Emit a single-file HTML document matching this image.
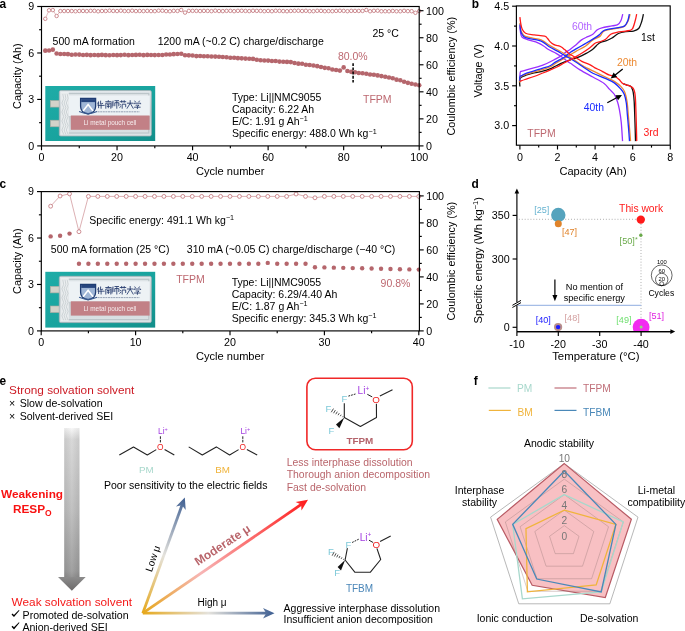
<!DOCTYPE html>
<html><head><meta charset="utf-8"><style>
html,body{margin:0;padding:0;background:#fff;overflow:hidden;}
svg{display:block;font-family:"Liberation Sans",sans-serif;will-change:transform;}
</style></head><body>
<svg width="685" height="631" viewBox="0 0 685 631">
<rect width="685" height="631" fill="#fff"/>
<defs><linearGradient id="tla" x1="0" y1="0" x2="1" y2="1"><stop offset="0" stop-color="#1eaca7"/><stop offset="0.6" stop-color="#18a29d"/><stop offset="1" stop-color="#128e8a"/></linearGradient><linearGradient id="sva" x1="0" y1="0" x2="0" y2="1"><stop offset="0" stop-color="#e2e8eb"/><stop offset="0.5" stop-color="#c6ced2"/><stop offset="1" stop-color="#dde4e7"/></linearGradient></defs>
<rect x="45.30" y="86.00" width="109.90" height="55.00" fill="url(#tla)"/>
<rect x="50.30" y="100.50" width="10.5" height="6.6" fill="#d3d2c9" stroke="#a9a89f" stroke-width="0.6"/>
<rect x="50.30" y="120.20" width="10.5" height="6.6" fill="#d3d2c9" stroke="#a9a89f" stroke-width="0.6"/>
<rect x="59.30" y="90.50" width="92.00" height="45.50" rx="1.5" fill="url(#sva)" stroke="#a7b2b7" stroke-width="0.8"/>
<rect x="61.80" y="93.50" width="87.00" height="39.50" fill="none" stroke="#bcc6ca" stroke-width="1.2"/>
<rect x="68.80" y="95.50" width="81.00" height="20.50" fill="#edf2f5"/>
<rect x="60.80" y="92.00" width="8" height="42.50" fill="#eef1f2" opacity="0.85"/>
<path d="M62.80 94.00 L63.70 98.50 L61.90 103.00 L63.70 107.50 L61.90 112.00 L63.70 116.50 L61.90 121.00 L63.70 125.50 L61.90 130.00 L63.70 134.50" stroke="#b3bdc1" stroke-width="0.55" fill="none"/>
<path d="M65.00 94.00 L65.90 98.50 L64.10 103.00 L65.90 107.50 L64.10 112.00 L65.90 116.50 L64.10 121.00 L65.90 125.50 L64.10 130.00 L65.90 134.50" stroke="#b3bdc1" stroke-width="0.55" fill="none"/>
<path d="M67.20 94.00 L68.10 98.50 L66.30 103.00 L68.10 107.50 L66.30 112.00 L68.10 116.50 L66.30 121.00 L68.10 125.50 L66.30 130.00 L68.10 134.50" stroke="#b3bdc1" stroke-width="0.55" fill="none"/>
<rect x="70.80" y="115.50" width="78.80" height="14.30" fill="#c28086"/>
<text x="110.00" y="124.70" font-size="6.4" text-anchor="middle" fill="#f6ecee">Li metal pouch cell</text>
<path d="M80.60 98.50 h15 v8 q0 6 -7.5 7.5 q-7.5 -1.5 -7.5 -7.5z" fill="#9fb6d6" stroke="#1f3c73" stroke-width="1.3"/>
<path d="M81.20 99.10 h13.8 v3 h-13.8z" fill="#26457e"/>
<path d="M83.10 111.00 l5 -6.5 l5 6.5" stroke="#ffffff" stroke-width="1.6" fill="none"/>
<path d="M79.10 111.50 q9 4 18 0" stroke="#3a5a90" stroke-width="1.2" fill="none"/>
<path transform="translate(97.60,100.20)" d="M1 1.2 L0 4.2 M1 2 V8 M3 0.5 V4 L5.5 3 M0 5.2 H7 M3.5 4.5 V8.5" stroke="#22386a" stroke-width="0.85" fill="none"/>
<path transform="translate(104.80,100.20)" d="M0.5 1.5 H6.5 M3.5 0 V1.5 M1 3 H6 V8.5 M1 3 V8.5 M2.2 4.5 L4.8 4.5 M3.5 4.5 V8 M2 6.2 H5" stroke="#22386a" stroke-width="0.85" fill="none"/>
<path transform="translate(112.00,100.20)" d="M1 0.5 V6 M0 1.5 V7.5 M2.5 0.5 H7 M2.8 2.5 H6.8 V6 M2.8 2.5 V6 M4.8 0.5 V8.5" stroke="#22386a" stroke-width="0.85" fill="none"/>
<path transform="translate(119.20,100.20)" d="M0.5 1.5 H7 M2.5 0 V2.5 M5 0 V2.5 M0.5 4 L1.8 5 M0.2 7.5 L2 6 M3 4 H6.5 V7 M3 4 V8.5" stroke="#22386a" stroke-width="0.85" fill="none"/>
<path transform="translate(126.40,100.20)" d="M0.5 3 H7 M3.8 0 V3 L0.5 8.5 M3.8 3 L7 8.5" stroke="#22386a" stroke-width="0.85" fill="none"/>
<path transform="translate(133.60,100.20)" d="M1 0.5 L2 2 M6 0.5 L5 2 M0.5 3 H7 V4 M0.5 3 V4 M2 5 H5.5 L3.5 6.5 M0.5 7 H7 M3.8 6.5 V8.8" stroke="#22386a" stroke-width="0.85" fill="none"/>
<line x1="97.60" y1="111.80" x2="139.60" y2="111.80" stroke="#8a97ad" stroke-width="0.9" stroke-dasharray="2,0.6"/>
<circle cx="45.28" cy="50.67" r="2.30" fill="#b5666c" />
<circle cx="49.05" cy="50.52" r="2.30" fill="#b5666c" />
<circle cx="52.83" cy="49.63" r="2.30" fill="#b5666c" />
<circle cx="56.61" cy="53.45" r="2.30" fill="#b5666c" />
<circle cx="60.39" cy="54.06" r="2.30" fill="#b5666c" />
<circle cx="64.16" cy="53.98" r="2.30" fill="#b5666c" />
<circle cx="67.94" cy="54.16" r="2.30" fill="#b5666c" />
<circle cx="71.72" cy="54.77" r="2.30" fill="#b5666c" />
<circle cx="75.49" cy="54.55" r="2.30" fill="#b5666c" />
<circle cx="79.27" cy="54.61" r="2.30" fill="#b5666c" />
<circle cx="83.05" cy="55.06" r="2.30" fill="#b5666c" />
<circle cx="86.82" cy="54.87" r="2.30" fill="#b5666c" />
<circle cx="90.60" cy="55.13" r="2.30" fill="#b5666c" />
<circle cx="94.38" cy="55.02" r="2.30" fill="#b5666c" />
<circle cx="98.16" cy="55.17" r="2.30" fill="#b5666c" />
<circle cx="101.93" cy="54.91" r="2.30" fill="#b5666c" />
<circle cx="105.71" cy="55.14" r="2.30" fill="#b5666c" />
<circle cx="109.49" cy="55.25" r="2.30" fill="#b5666c" />
<circle cx="113.26" cy="55.06" r="2.30" fill="#b5666c" />
<circle cx="117.04" cy="55.16" r="2.30" fill="#b5666c" />
<circle cx="120.82" cy="55.11" r="2.30" fill="#b5666c" />
<circle cx="124.59" cy="54.79" r="2.30" fill="#b5666c" />
<circle cx="128.37" cy="55.13" r="2.30" fill="#b5666c" />
<circle cx="132.15" cy="55.03" r="2.30" fill="#b5666c" />
<circle cx="135.93" cy="54.88" r="2.30" fill="#b5666c" />
<circle cx="139.70" cy="54.73" r="2.30" fill="#b5666c" />
<circle cx="143.48" cy="55.13" r="2.30" fill="#b5666c" />
<circle cx="147.26" cy="54.92" r="2.30" fill="#b5666c" />
<circle cx="151.03" cy="55.03" r="2.30" fill="#b5666c" />
<circle cx="154.81" cy="55.10" r="2.30" fill="#b5666c" />
<circle cx="158.59" cy="55.01" r="2.30" fill="#b5666c" />
<circle cx="162.36" cy="54.94" r="2.30" fill="#b5666c" />
<circle cx="166.14" cy="54.50" r="2.30" fill="#b5666c" />
<circle cx="169.92" cy="54.53" r="2.30" fill="#b5666c" />
<circle cx="173.69" cy="54.17" r="2.30" fill="#b5666c" />
<circle cx="177.47" cy="54.07" r="2.30" fill="#b5666c" />
<circle cx="181.25" cy="53.69" r="2.30" fill="#b5666c" />
<circle cx="185.03" cy="55.20" r="2.30" fill="#b5666c" />
<circle cx="188.80" cy="55.37" r="2.30" fill="#b5666c" />
<circle cx="192.58" cy="55.57" r="2.30" fill="#b5666c" />
<circle cx="196.36" cy="56.10" r="2.30" fill="#b5666c" />
<circle cx="200.13" cy="55.99" r="2.30" fill="#b5666c" />
<circle cx="203.91" cy="56.24" r="2.30" fill="#b5666c" />
<circle cx="207.69" cy="56.23" r="2.30" fill="#b5666c" />
<circle cx="211.47" cy="56.49" r="2.30" fill="#b5666c" />
<circle cx="215.24" cy="56.59" r="2.30" fill="#b5666c" />
<circle cx="219.02" cy="56.73" r="2.30" fill="#b5666c" />
<circle cx="222.80" cy="57.07" r="2.30" fill="#b5666c" />
<circle cx="226.57" cy="57.29" r="2.30" fill="#b5666c" />
<circle cx="230.35" cy="57.68" r="2.30" fill="#b5666c" />
<circle cx="234.13" cy="57.79" r="2.30" fill="#b5666c" />
<circle cx="237.90" cy="58.14" r="2.30" fill="#b5666c" />
<circle cx="241.68" cy="58.33" r="2.30" fill="#b5666c" />
<circle cx="245.46" cy="58.62" r="2.30" fill="#b5666c" />
<circle cx="249.24" cy="58.69" r="2.30" fill="#b5666c" />
<circle cx="253.01" cy="58.90" r="2.30" fill="#b5666c" />
<circle cx="256.79" cy="59.71" r="2.30" fill="#b5666c" />
<circle cx="260.57" cy="60.23" r="2.30" fill="#b5666c" />
<circle cx="264.34" cy="60.49" r="2.30" fill="#b5666c" />
<circle cx="268.12" cy="60.61" r="2.30" fill="#b5666c" />
<circle cx="271.90" cy="60.97" r="2.30" fill="#b5666c" />
<circle cx="275.67" cy="61.01" r="2.30" fill="#b5666c" />
<circle cx="279.45" cy="61.60" r="2.30" fill="#b5666c" />
<circle cx="283.23" cy="61.76" r="2.30" fill="#b5666c" />
<circle cx="287.00" cy="61.90" r="2.30" fill="#b5666c" />
<circle cx="290.78" cy="62.08" r="2.30" fill="#b5666c" />
<circle cx="294.56" cy="63.04" r="2.30" fill="#b5666c" />
<circle cx="298.34" cy="63.67" r="2.30" fill="#b5666c" />
<circle cx="302.11" cy="63.78" r="2.30" fill="#b5666c" />
<circle cx="305.89" cy="64.70" r="2.30" fill="#b5666c" />
<circle cx="309.67" cy="65.07" r="2.30" fill="#b5666c" />
<circle cx="313.44" cy="65.50" r="2.30" fill="#b5666c" />
<circle cx="317.22" cy="66.13" r="2.30" fill="#b5666c" />
<circle cx="321.00" cy="66.93" r="2.30" fill="#b5666c" />
<circle cx="324.77" cy="67.85" r="2.30" fill="#b5666c" />
<circle cx="328.55" cy="68.31" r="2.30" fill="#b5666c" />
<circle cx="332.33" cy="69.46" r="2.30" fill="#b5666c" />
<circle cx="336.11" cy="70.07" r="2.30" fill="#b5666c" />
<circle cx="339.88" cy="70.61" r="2.30" fill="#b5666c" />
<circle cx="343.66" cy="67.42" r="2.30" fill="#b5666c" />
<circle cx="347.44" cy="70.99" r="2.30" fill="#b5666c" />
<circle cx="351.21" cy="71.84" r="2.30" fill="#b5666c" />
<circle cx="354.99" cy="72.20" r="2.30" fill="#b5666c" />
<circle cx="358.77" cy="73.01" r="2.30" fill="#b5666c" />
<circle cx="362.55" cy="73.23" r="2.30" fill="#b5666c" />
<circle cx="366.32" cy="73.68" r="2.30" fill="#b5666c" />
<circle cx="370.10" cy="74.50" r="2.30" fill="#b5666c" />
<circle cx="373.88" cy="74.78" r="2.30" fill="#b5666c" />
<circle cx="377.65" cy="75.42" r="2.30" fill="#b5666c" />
<circle cx="381.43" cy="76.09" r="2.30" fill="#b5666c" />
<circle cx="385.21" cy="76.76" r="2.30" fill="#b5666c" />
<circle cx="388.98" cy="77.45" r="2.30" fill="#b5666c" />
<circle cx="392.76" cy="78.32" r="2.30" fill="#b5666c" />
<circle cx="396.54" cy="79.66" r="2.30" fill="#b5666c" />
<circle cx="400.31" cy="80.31" r="2.30" fill="#b5666c" />
<circle cx="404.09" cy="81.76" r="2.30" fill="#b5666c" />
<circle cx="407.87" cy="82.86" r="2.30" fill="#b5666c" />
<circle cx="411.65" cy="83.74" r="2.30" fill="#b5666c" />
<circle cx="415.42" cy="84.48" r="2.30" fill="#b5666c" />
<circle cx="419.20" cy="85.21" r="2.30" fill="#b5666c" />
<path d="M45.28 18.80 L49.05 10.30 L52.83 10.10 L56.61 16.00 L60.39 11.09 L64.16 11.06 L67.94 11.04 L71.72 11.07 L75.49 11.26 L79.27 11.00 L83.05 10.96 L86.82 11.13 L90.60 10.84 L94.38 10.88 L98.16 11.29 L101.93 11.01 L105.71 11.03 L109.49 10.71 L113.26 10.95 L117.04 11.05 L120.82 10.71 L124.59 11.07 L128.37 11.08 L132.15 10.74 L135.93 11.08 L139.70 10.98 L143.48 11.11 L147.26 10.91 L151.03 11.12 L154.81 11.14 L158.59 10.71 L162.36 10.74 L166.14 11.11 L169.92 11.28 L173.69 10.85 L177.47 10.97 L181.25 10.00 L185.03 12.60 L188.80 10.92 L192.58 10.89 L196.36 10.92 L200.13 11.06 L203.91 10.88 L207.69 10.93 L211.47 11.16 L215.24 10.72 L219.02 11.04 L222.80 11.14 L226.57 10.89 L230.35 10.83 L234.13 11.18 L237.90 10.84 L241.68 10.81 L245.46 10.96 L249.24 11.12 L253.01 10.76 L256.79 10.89 L260.57 10.90 L264.34 11.20 L268.12 10.96 L271.90 11.21 L275.67 10.80 L279.45 10.90 L283.23 11.09 L287.00 11.23 L290.78 10.97 L294.56 10.84 L298.34 10.77 L302.11 11.02 L305.89 10.81 L309.67 11.18 L313.44 11.20 L317.22 10.81 L321.00 10.87 L324.77 11.18 L328.55 11.09 L332.33 11.18 L336.11 10.91 L339.88 10.78 L343.66 10.88 L347.44 11.18 L351.21 10.86 L354.99 10.91 L358.77 10.95 L362.55 10.95 L366.32 10.00 L370.10 11.25 L373.88 10.79 L377.65 10.70 L381.43 11.27 L385.21 11.23 L388.98 11.29 L392.76 10.96 L396.54 11.27 L400.31 11.26 L404.09 10.83 L407.87 11.15 L411.65 11.20 L415.42 12.80 L419.20 11.01" fill="none" stroke="#c47a80" stroke-width="0.5"/>
<circle cx="45.28" cy="18.80" r="1.75" fill="#fff" stroke="#c47a80" stroke-width="0.85" />
<circle cx="49.05" cy="10.30" r="1.75" fill="#fff" stroke="#c47a80" stroke-width="0.85" />
<circle cx="52.83" cy="10.10" r="1.75" fill="#fff" stroke="#c47a80" stroke-width="0.85" />
<circle cx="56.61" cy="16.00" r="1.75" fill="#fff" stroke="#c47a80" stroke-width="0.85" />
<circle cx="60.39" cy="11.09" r="1.75" fill="#fff" stroke="#c47a80" stroke-width="0.85" />
<circle cx="64.16" cy="11.06" r="1.75" fill="#fff" stroke="#c47a80" stroke-width="0.85" />
<circle cx="67.94" cy="11.04" r="1.75" fill="#fff" stroke="#c47a80" stroke-width="0.85" />
<circle cx="71.72" cy="11.07" r="1.75" fill="#fff" stroke="#c47a80" stroke-width="0.85" />
<circle cx="75.49" cy="11.26" r="1.75" fill="#fff" stroke="#c47a80" stroke-width="0.85" />
<circle cx="79.27" cy="11.00" r="1.75" fill="#fff" stroke="#c47a80" stroke-width="0.85" />
<circle cx="83.05" cy="10.96" r="1.75" fill="#fff" stroke="#c47a80" stroke-width="0.85" />
<circle cx="86.82" cy="11.13" r="1.75" fill="#fff" stroke="#c47a80" stroke-width="0.85" />
<circle cx="90.60" cy="10.84" r="1.75" fill="#fff" stroke="#c47a80" stroke-width="0.85" />
<circle cx="94.38" cy="10.88" r="1.75" fill="#fff" stroke="#c47a80" stroke-width="0.85" />
<circle cx="98.16" cy="11.29" r="1.75" fill="#fff" stroke="#c47a80" stroke-width="0.85" />
<circle cx="101.93" cy="11.01" r="1.75" fill="#fff" stroke="#c47a80" stroke-width="0.85" />
<circle cx="105.71" cy="11.03" r="1.75" fill="#fff" stroke="#c47a80" stroke-width="0.85" />
<circle cx="109.49" cy="10.71" r="1.75" fill="#fff" stroke="#c47a80" stroke-width="0.85" />
<circle cx="113.26" cy="10.95" r="1.75" fill="#fff" stroke="#c47a80" stroke-width="0.85" />
<circle cx="117.04" cy="11.05" r="1.75" fill="#fff" stroke="#c47a80" stroke-width="0.85" />
<circle cx="120.82" cy="10.71" r="1.75" fill="#fff" stroke="#c47a80" stroke-width="0.85" />
<circle cx="124.59" cy="11.07" r="1.75" fill="#fff" stroke="#c47a80" stroke-width="0.85" />
<circle cx="128.37" cy="11.08" r="1.75" fill="#fff" stroke="#c47a80" stroke-width="0.85" />
<circle cx="132.15" cy="10.74" r="1.75" fill="#fff" stroke="#c47a80" stroke-width="0.85" />
<circle cx="135.93" cy="11.08" r="1.75" fill="#fff" stroke="#c47a80" stroke-width="0.85" />
<circle cx="139.70" cy="10.98" r="1.75" fill="#fff" stroke="#c47a80" stroke-width="0.85" />
<circle cx="143.48" cy="11.11" r="1.75" fill="#fff" stroke="#c47a80" stroke-width="0.85" />
<circle cx="147.26" cy="10.91" r="1.75" fill="#fff" stroke="#c47a80" stroke-width="0.85" />
<circle cx="151.03" cy="11.12" r="1.75" fill="#fff" stroke="#c47a80" stroke-width="0.85" />
<circle cx="154.81" cy="11.14" r="1.75" fill="#fff" stroke="#c47a80" stroke-width="0.85" />
<circle cx="158.59" cy="10.71" r="1.75" fill="#fff" stroke="#c47a80" stroke-width="0.85" />
<circle cx="162.36" cy="10.74" r="1.75" fill="#fff" stroke="#c47a80" stroke-width="0.85" />
<circle cx="166.14" cy="11.11" r="1.75" fill="#fff" stroke="#c47a80" stroke-width="0.85" />
<circle cx="169.92" cy="11.28" r="1.75" fill="#fff" stroke="#c47a80" stroke-width="0.85" />
<circle cx="173.69" cy="10.85" r="1.75" fill="#fff" stroke="#c47a80" stroke-width="0.85" />
<circle cx="177.47" cy="10.97" r="1.75" fill="#fff" stroke="#c47a80" stroke-width="0.85" />
<circle cx="181.25" cy="10.00" r="1.75" fill="#fff" stroke="#c47a80" stroke-width="0.85" />
<circle cx="185.03" cy="12.60" r="1.75" fill="#fff" stroke="#c47a80" stroke-width="0.85" />
<circle cx="188.80" cy="10.92" r="1.75" fill="#fff" stroke="#c47a80" stroke-width="0.85" />
<circle cx="192.58" cy="10.89" r="1.75" fill="#fff" stroke="#c47a80" stroke-width="0.85" />
<circle cx="196.36" cy="10.92" r="1.75" fill="#fff" stroke="#c47a80" stroke-width="0.85" />
<circle cx="200.13" cy="11.06" r="1.75" fill="#fff" stroke="#c47a80" stroke-width="0.85" />
<circle cx="203.91" cy="10.88" r="1.75" fill="#fff" stroke="#c47a80" stroke-width="0.85" />
<circle cx="207.69" cy="10.93" r="1.75" fill="#fff" stroke="#c47a80" stroke-width="0.85" />
<circle cx="211.47" cy="11.16" r="1.75" fill="#fff" stroke="#c47a80" stroke-width="0.85" />
<circle cx="215.24" cy="10.72" r="1.75" fill="#fff" stroke="#c47a80" stroke-width="0.85" />
<circle cx="219.02" cy="11.04" r="1.75" fill="#fff" stroke="#c47a80" stroke-width="0.85" />
<circle cx="222.80" cy="11.14" r="1.75" fill="#fff" stroke="#c47a80" stroke-width="0.85" />
<circle cx="226.57" cy="10.89" r="1.75" fill="#fff" stroke="#c47a80" stroke-width="0.85" />
<circle cx="230.35" cy="10.83" r="1.75" fill="#fff" stroke="#c47a80" stroke-width="0.85" />
<circle cx="234.13" cy="11.18" r="1.75" fill="#fff" stroke="#c47a80" stroke-width="0.85" />
<circle cx="237.90" cy="10.84" r="1.75" fill="#fff" stroke="#c47a80" stroke-width="0.85" />
<circle cx="241.68" cy="10.81" r="1.75" fill="#fff" stroke="#c47a80" stroke-width="0.85" />
<circle cx="245.46" cy="10.96" r="1.75" fill="#fff" stroke="#c47a80" stroke-width="0.85" />
<circle cx="249.24" cy="11.12" r="1.75" fill="#fff" stroke="#c47a80" stroke-width="0.85" />
<circle cx="253.01" cy="10.76" r="1.75" fill="#fff" stroke="#c47a80" stroke-width="0.85" />
<circle cx="256.79" cy="10.89" r="1.75" fill="#fff" stroke="#c47a80" stroke-width="0.85" />
<circle cx="260.57" cy="10.90" r="1.75" fill="#fff" stroke="#c47a80" stroke-width="0.85" />
<circle cx="264.34" cy="11.20" r="1.75" fill="#fff" stroke="#c47a80" stroke-width="0.85" />
<circle cx="268.12" cy="10.96" r="1.75" fill="#fff" stroke="#c47a80" stroke-width="0.85" />
<circle cx="271.90" cy="11.21" r="1.75" fill="#fff" stroke="#c47a80" stroke-width="0.85" />
<circle cx="275.67" cy="10.80" r="1.75" fill="#fff" stroke="#c47a80" stroke-width="0.85" />
<circle cx="279.45" cy="10.90" r="1.75" fill="#fff" stroke="#c47a80" stroke-width="0.85" />
<circle cx="283.23" cy="11.09" r="1.75" fill="#fff" stroke="#c47a80" stroke-width="0.85" />
<circle cx="287.00" cy="11.23" r="1.75" fill="#fff" stroke="#c47a80" stroke-width="0.85" />
<circle cx="290.78" cy="10.97" r="1.75" fill="#fff" stroke="#c47a80" stroke-width="0.85" />
<circle cx="294.56" cy="10.84" r="1.75" fill="#fff" stroke="#c47a80" stroke-width="0.85" />
<circle cx="298.34" cy="10.77" r="1.75" fill="#fff" stroke="#c47a80" stroke-width="0.85" />
<circle cx="302.11" cy="11.02" r="1.75" fill="#fff" stroke="#c47a80" stroke-width="0.85" />
<circle cx="305.89" cy="10.81" r="1.75" fill="#fff" stroke="#c47a80" stroke-width="0.85" />
<circle cx="309.67" cy="11.18" r="1.75" fill="#fff" stroke="#c47a80" stroke-width="0.85" />
<circle cx="313.44" cy="11.20" r="1.75" fill="#fff" stroke="#c47a80" stroke-width="0.85" />
<circle cx="317.22" cy="10.81" r="1.75" fill="#fff" stroke="#c47a80" stroke-width="0.85" />
<circle cx="321.00" cy="10.87" r="1.75" fill="#fff" stroke="#c47a80" stroke-width="0.85" />
<circle cx="324.77" cy="11.18" r="1.75" fill="#fff" stroke="#c47a80" stroke-width="0.85" />
<circle cx="328.55" cy="11.09" r="1.75" fill="#fff" stroke="#c47a80" stroke-width="0.85" />
<circle cx="332.33" cy="11.18" r="1.75" fill="#fff" stroke="#c47a80" stroke-width="0.85" />
<circle cx="336.11" cy="10.91" r="1.75" fill="#fff" stroke="#c47a80" stroke-width="0.85" />
<circle cx="339.88" cy="10.78" r="1.75" fill="#fff" stroke="#c47a80" stroke-width="0.85" />
<circle cx="343.66" cy="10.88" r="1.75" fill="#fff" stroke="#c47a80" stroke-width="0.85" />
<circle cx="347.44" cy="11.18" r="1.75" fill="#fff" stroke="#c47a80" stroke-width="0.85" />
<circle cx="351.21" cy="10.86" r="1.75" fill="#fff" stroke="#c47a80" stroke-width="0.85" />
<circle cx="354.99" cy="10.91" r="1.75" fill="#fff" stroke="#c47a80" stroke-width="0.85" />
<circle cx="358.77" cy="10.95" r="1.75" fill="#fff" stroke="#c47a80" stroke-width="0.85" />
<circle cx="362.55" cy="10.95" r="1.75" fill="#fff" stroke="#c47a80" stroke-width="0.85" />
<circle cx="366.32" cy="10.00" r="1.75" fill="#fff" stroke="#c47a80" stroke-width="0.85" />
<circle cx="370.10" cy="11.25" r="1.75" fill="#fff" stroke="#c47a80" stroke-width="0.85" />
<circle cx="373.88" cy="10.79" r="1.75" fill="#fff" stroke="#c47a80" stroke-width="0.85" />
<circle cx="377.65" cy="10.70" r="1.75" fill="#fff" stroke="#c47a80" stroke-width="0.85" />
<circle cx="381.43" cy="11.27" r="1.75" fill="#fff" stroke="#c47a80" stroke-width="0.85" />
<circle cx="385.21" cy="11.23" r="1.75" fill="#fff" stroke="#c47a80" stroke-width="0.85" />
<circle cx="388.98" cy="11.29" r="1.75" fill="#fff" stroke="#c47a80" stroke-width="0.85" />
<circle cx="392.76" cy="10.96" r="1.75" fill="#fff" stroke="#c47a80" stroke-width="0.85" />
<circle cx="396.54" cy="11.27" r="1.75" fill="#fff" stroke="#c47a80" stroke-width="0.85" />
<circle cx="400.31" cy="11.26" r="1.75" fill="#fff" stroke="#c47a80" stroke-width="0.85" />
<circle cx="404.09" cy="10.83" r="1.75" fill="#fff" stroke="#c47a80" stroke-width="0.85" />
<circle cx="407.87" cy="11.15" r="1.75" fill="#fff" stroke="#c47a80" stroke-width="0.85" />
<circle cx="411.65" cy="11.20" r="1.75" fill="#fff" stroke="#c47a80" stroke-width="0.85" />
<circle cx="415.42" cy="12.80" r="1.75" fill="#fff" stroke="#c47a80" stroke-width="0.85" />
<circle cx="419.20" cy="11.01" r="1.75" fill="#fff" stroke="#c47a80" stroke-width="0.85" />
<rect x="41.5" y="6.5" width="377.70" height="139.40" fill="none" stroke="#000" stroke-width="1.15"/>
<line x1="37.20" y1="145.90" x2="41.50" y2="145.90" stroke="#000" stroke-width="1.15" />
<text x="34.20" y="149.75" font-size="10.7" text-anchor="end" >0</text>
<line x1="37.20" y1="99.43" x2="41.50" y2="99.43" stroke="#000" stroke-width="1.15" />
<text x="34.20" y="103.29" font-size="10.7" text-anchor="end" >3</text>
<line x1="37.20" y1="52.97" x2="41.50" y2="52.97" stroke="#000" stroke-width="1.15" />
<text x="34.20" y="56.82" font-size="10.7" text-anchor="end" >6</text>
<line x1="37.20" y1="6.50" x2="41.50" y2="6.50" stroke="#000" stroke-width="1.15" />
<text x="34.20" y="10.35" font-size="10.7" text-anchor="end" >9</text>
<line x1="39.10" y1="122.67" x2="41.50" y2="122.67" stroke="#000" stroke-width="1.15" />
<line x1="39.10" y1="76.20" x2="41.50" y2="76.20" stroke="#000" stroke-width="1.15" />
<line x1="39.10" y1="29.73" x2="41.50" y2="29.73" stroke="#000" stroke-width="1.15" />
<line x1="419.20" y1="145.90" x2="423.50" y2="145.90" stroke="#000" stroke-width="1.15" />
<text x="426.00" y="149.75" font-size="10.7" >0</text>
<line x1="419.20" y1="118.86" x2="423.50" y2="118.86" stroke="#000" stroke-width="1.15" />
<text x="426.00" y="122.71" font-size="10.7" >20</text>
<line x1="419.20" y1="91.82" x2="423.50" y2="91.82" stroke="#000" stroke-width="1.15" />
<text x="426.00" y="95.67" font-size="10.7" >40</text>
<line x1="419.20" y1="64.78" x2="423.50" y2="64.78" stroke="#000" stroke-width="1.15" />
<text x="426.00" y="68.63" font-size="10.7" >60</text>
<line x1="419.20" y1="37.74" x2="423.50" y2="37.74" stroke="#000" stroke-width="1.15" />
<text x="426.00" y="41.59" font-size="10.7" >80</text>
<line x1="419.20" y1="10.70" x2="423.50" y2="10.70" stroke="#000" stroke-width="1.15" />
<text x="426.00" y="14.55" font-size="10.7" >100</text>
<line x1="419.20" y1="132.38" x2="421.60" y2="132.38" stroke="#000" stroke-width="1.15" />
<line x1="419.20" y1="105.34" x2="421.60" y2="105.34" stroke="#000" stroke-width="1.15" />
<line x1="419.20" y1="78.30" x2="421.60" y2="78.30" stroke="#000" stroke-width="1.15" />
<line x1="419.20" y1="51.26" x2="421.60" y2="51.26" stroke="#000" stroke-width="1.15" />
<line x1="419.20" y1="24.22" x2="421.60" y2="24.22" stroke="#000" stroke-width="1.15" />
<line x1="41.50" y1="145.90" x2="41.50" y2="150.20" stroke="#000" stroke-width="1.15" />
<text x="41.50" y="161.20" font-size="10.7" text-anchor="middle" >0</text>
<line x1="117.04" y1="145.90" x2="117.04" y2="150.20" stroke="#000" stroke-width="1.15" />
<text x="117.04" y="161.20" font-size="10.7" text-anchor="middle" >20</text>
<line x1="192.58" y1="145.90" x2="192.58" y2="150.20" stroke="#000" stroke-width="1.15" />
<text x="192.58" y="161.20" font-size="10.7" text-anchor="middle" >40</text>
<line x1="268.12" y1="145.90" x2="268.12" y2="150.20" stroke="#000" stroke-width="1.15" />
<text x="268.12" y="161.20" font-size="10.7" text-anchor="middle" >60</text>
<line x1="343.66" y1="145.90" x2="343.66" y2="150.20" stroke="#000" stroke-width="1.15" />
<text x="343.66" y="161.20" font-size="10.7" text-anchor="middle" >80</text>
<line x1="419.20" y1="145.90" x2="419.20" y2="150.20" stroke="#000" stroke-width="1.15" />
<text x="419.20" y="161.20" font-size="10.7" text-anchor="middle" >100</text>
<line x1="79.27" y1="145.90" x2="79.27" y2="148.30" stroke="#000" stroke-width="1.15" />
<line x1="154.81" y1="145.90" x2="154.81" y2="148.30" stroke="#000" stroke-width="1.15" />
<line x1="230.35" y1="145.90" x2="230.35" y2="148.30" stroke="#000" stroke-width="1.15" />
<line x1="305.89" y1="145.90" x2="305.89" y2="148.30" stroke="#000" stroke-width="1.15" />
<line x1="381.43" y1="145.90" x2="381.43" y2="148.30" stroke="#000" stroke-width="1.15" />
<text x="230.20" y="174.60" font-size="11.1" text-anchor="middle" >Cycle number</text>
<text transform="translate(16.80,76.20) rotate(-90)" x="0" y="3.89" font-size="10.8" text-anchor="middle">Capacity (Ah)</text>
<text transform="translate(450.80,76.20) rotate(-90)" x="0" y="3.89" font-size="10.8" text-anchor="middle">Coulombic efficiency (%)</text>
<text x="-0.5" y="7.9" font-size="11.9" font-weight="bold">a</text>
<text x="52.60" y="45.08" font-size="10.5" >500 mA formation</text>
<text x="157.70" y="45.08" font-size="10.5" >1200 mA (~0.2 C) charge/discharge</text>
<text x="372.50" y="37.28" font-size="10.5" >25 °C</text>
<text x="352.80" y="60.00" font-size="10.5" text-anchor="middle" fill="#bd6870" >80.0%</text>
<line x1="353.10" y1="63.20" x2="353.10" y2="82.40" stroke="#000" stroke-width="1.5" stroke-dasharray="2.9,1.3"/>
<text x="363.00" y="102.78" font-size="10.5" fill="#bd6870" >TFPM</text>
<text x="231.90" y="100.68" font-size="10.5" >Type: Li||NMC9055</text>
<text x="231.90" y="112.93" font-size="10.5" >Capacity: 6.22 Ah</text>
<text x="231.90" y="125.18" font-size="10.5" >E/C: 1.91 g Ah<tspan font-size="7.2" dy="-3.9">−1</tspan></text>
<text x="231.90" y="137.43" font-size="10.5" >Specific energy: 488.0 Wh kg<tspan font-size="7.2" dy="-3.9">−1</tspan></text>
<text x="471.8" y="7.9" font-size="11.9" font-weight="bold">b</text>
<path d="M519.90 86.60 C519.90 85.27 519.05 80.47 519.90 78.64 C520.75 76.81 522.63 76.55 524.98 75.61 C527.33 74.67 531.02 73.71 534.00 72.98 C536.98 72.25 540.17 71.91 542.84 71.23 C545.50 70.56 547.82 69.80 549.98 68.92 C552.14 68.05 553.36 67.15 555.81 65.98 C558.25 64.81 561.92 63.06 564.64 61.92 C567.37 60.78 569.75 59.97 572.16 59.13 C574.58 58.30 576.71 57.90 579.12 56.91 C581.53 55.91 584.42 54.38 586.64 53.16 C588.86 51.94 590.78 50.91 592.47 49.58 C594.16 48.26 595.44 46.40 596.79 45.20 C598.14 44.01 598.86 43.20 600.55 42.42 C602.24 41.64 605.03 41.24 606.94 40.51 C608.86 39.78 610.11 39.21 612.02 38.04 C613.93 36.87 616.09 34.58 618.41 33.50 C620.73 32.43 623.43 32.00 625.93 31.59 C628.44 31.18 631.32 31.55 633.45 31.04 C635.58 30.52 637.34 30.08 638.72 28.49 C640.09 26.90 640.94 23.87 641.72 21.48 C642.51 19.10 643.13 15.38 643.42 14.16" fill="none" stroke="#111" stroke-width="1.3" stroke-linejoin="round"/>
<path d="M623.30 83.81 C623.93 84.02 625.81 84.63 627.06 85.08 C628.31 85.53 629.97 85.89 630.82 86.52 C631.67 87.14 631.73 87.82 632.14 88.82 C632.54 89.83 632.92 90.42 633.26 92.57 C633.61 94.72 633.92 96.80 634.20 101.72 C634.49 106.64 634.74 115.53 634.96 122.10 C635.18 128.66 635.43 137.95 635.52 141.12" fill="none" stroke="#111" stroke-width="1.3" stroke-linejoin="round"/>
<path d="M519.90 76.25 C519.96 75.56 520.03 72.93 520.28 72.11 C520.53 71.29 520.62 71.62 521.40 71.31 C522.19 71.01 521.40 71.31 524.98 70.28 C528.55 69.24 537.70 67.00 542.84 65.10 C547.97 63.21 552.74 60.43 555.81 58.90 C558.88 57.36 559.79 56.87 561.26 55.87 C562.73 54.88 563.17 54.00 564.64 52.93 C566.12 51.85 568.34 50.64 570.10 49.42 C571.85 48.20 573.26 47.19 575.17 45.60 C577.08 44.01 579.46 41.36 581.56 39.87 C583.66 38.38 585.89 37.63 587.77 36.69 C589.65 35.74 591.25 35.39 592.84 34.22 C594.44 33.05 595.85 30.76 597.36 29.68 C598.86 28.61 599.42 28.41 601.87 27.77 C604.31 27.13 609.39 26.38 612.02 25.86 C614.65 25.34 616.19 25.52 617.66 24.67 C619.13 23.82 620.01 22.52 620.86 20.77 C621.70 19.02 622.42 15.26 622.74 14.16" fill="none" stroke="#9b30ff" stroke-width="1.3" stroke-linejoin="round"/>
<path d="M519.90 26.10 C520.03 27.29 520.28 31.41 520.65 33.26 C521.03 35.12 521.03 36.18 522.16 37.24 C523.28 38.31 524.79 38.70 527.42 39.63 C530.05 40.56 535.25 41.75 537.95 42.82 C540.64 43.88 541.83 44.89 543.59 46.00 C545.34 47.11 546.38 48.28 548.48 49.50 C550.58 50.72 553.83 51.98 556.18 53.32 C558.53 54.66 560.57 56.11 562.58 57.54 C564.58 58.97 566.65 60.81 568.22 61.92 C569.78 63.03 570.00 62.90 571.98 64.23 C573.95 65.56 576.58 67.74 580.06 69.88 C583.54 72.02 588.83 74.79 592.84 77.04 C596.85 79.30 601.37 81.40 604.12 83.41 C606.88 85.43 607.70 87.34 609.39 89.14 C611.08 90.95 612.93 92.14 614.28 94.24 C615.62 96.33 616.63 99.19 617.47 101.72 C618.32 104.25 618.73 106.04 619.35 109.44 C619.98 112.84 620.70 116.82 621.23 122.10 C621.76 127.38 622.33 137.95 622.55 141.12" fill="none" stroke="#9b30ff" stroke-width="1.3" stroke-linejoin="round"/>
<path d="M519.90 82.62 C519.90 81.73 519.05 78.61 519.90 77.28 C520.75 75.96 521.15 75.96 524.98 74.66 C528.80 73.36 538.67 70.77 542.84 69.48 C547.00 68.20 547.82 67.97 549.98 66.93 C552.14 65.90 553.36 64.75 555.81 63.27 C558.25 61.80 561.35 60.05 564.64 58.10 C567.93 56.15 572.04 53.59 575.55 51.57 C579.06 49.56 582.88 47.91 585.70 46.00 C588.52 44.09 590.06 41.75 592.47 40.11 C594.88 38.46 598.20 37.67 600.18 36.13 C602.15 34.59 601.27 32.23 604.31 30.88 C607.35 29.52 615.03 28.78 618.41 28.01 C621.80 27.24 622.99 27.47 624.62 26.26 C626.25 25.05 627.28 22.78 628.19 20.77 C629.10 18.75 629.75 15.26 630.07 14.16" fill="none" stroke="#ec8a33" stroke-width="1.3" stroke-linejoin="round"/>
<path d="M519.90 22.92 C520.03 23.98 520.34 27.69 520.65 29.28 C520.97 30.88 520.97 31.27 521.78 32.47 C522.59 33.66 522.72 35.32 525.54 36.45 C528.36 37.58 535.72 38.46 538.70 39.23 C541.68 40.00 541.52 40.00 543.40 41.06 C545.28 42.13 547.03 43.81 549.98 45.60 C552.93 47.39 557.41 49.67 561.07 51.81 C564.74 53.95 568.34 56.07 571.98 58.42 C575.61 60.77 578.96 63.60 582.88 65.90 C586.80 68.20 591.28 70.13 595.48 72.19 C599.67 74.24 604.94 76.70 608.07 78.24 C611.21 79.78 612.11 80.03 614.28 81.42 C616.44 82.81 619.29 84.80 621.04 86.60 C622.80 88.39 623.80 89.65 624.80 92.17 C625.81 94.69 626.46 97.79 627.06 101.72 C627.66 105.65 627.97 111.29 628.38 115.73 C628.78 120.17 629.14 124.15 629.50 128.39 C629.86 132.62 630.37 139.00 630.54 141.12" fill="none" stroke="#ec8a33" stroke-width="1.3" stroke-linejoin="round"/>
<path d="M519.90 81.02 C519.90 80.27 519.59 77.39 519.90 76.49 C520.21 75.58 520.93 76.05 521.78 75.61 C522.63 75.17 521.47 75.11 524.98 73.86 C528.49 72.61 538.67 69.48 542.84 68.13 C547.00 66.78 547.82 66.78 549.98 65.74 C552.14 64.71 553.36 63.38 555.81 61.92 C558.25 60.46 562.26 58.55 564.64 56.98 C567.03 55.42 568.28 53.83 570.10 52.53 C571.91 51.23 573.01 50.67 575.55 49.18 C578.09 47.70 582.50 45.24 585.32 43.61 C588.14 41.98 590.15 40.85 592.47 39.39 C594.79 37.93 597.26 36.36 599.24 34.86 C601.21 33.36 601.12 31.61 604.31 30.40 C607.51 29.19 615.03 28.37 618.41 27.61 C621.80 26.86 623.05 27.00 624.62 25.86 C626.18 24.72 627.03 22.72 627.81 20.77 C628.60 18.82 629.07 15.26 629.32 14.16" fill="none" stroke="#1a2cff" stroke-width="1.3" stroke-linejoin="round"/>
<path d="M519.90 24.51 C520.03 25.57 520.34 29.32 520.65 30.88 C520.97 32.43 520.97 32.69 521.78 33.82 C522.59 34.95 522.72 36.54 525.54 37.64 C528.36 38.74 535.72 39.65 538.70 40.43 C541.68 41.21 541.65 41.28 543.40 42.34 C545.15 43.40 546.97 45.36 549.23 46.80 C551.48 48.23 554.71 49.70 556.94 50.94 C559.16 52.17 560.70 53.10 562.58 54.20 C564.46 55.30 566.65 56.65 568.22 57.54 C569.78 58.43 569.53 58.01 571.98 59.53 C574.42 61.06 579.40 64.41 582.88 66.70 C586.36 68.98 589.12 71.29 592.84 73.22 C596.57 75.16 601.68 76.71 605.25 78.32 C608.82 79.92 611.68 81.05 614.28 82.85 C616.88 84.66 619.20 87.25 620.86 89.14 C622.52 91.04 623.33 91.93 624.24 94.24 C625.15 96.55 625.78 99.41 626.31 102.99 C626.84 106.58 627.06 111.50 627.44 115.73 C627.81 119.96 628.22 124.15 628.56 128.39 C628.91 132.62 629.35 139.00 629.50 141.12" fill="none" stroke="#1a2cff" stroke-width="1.3" stroke-linejoin="round"/>
<path d="M519.90 81.34 C520.75 81.04 522.63 80.32 524.98 79.51 C527.33 78.70 531.02 77.57 534.00 76.49 C536.98 75.40 540.17 74.06 542.84 72.98 C545.50 71.91 547.54 71.07 549.98 70.04 C552.42 69.00 555.06 68.00 557.50 66.78 C559.94 65.56 561.64 64.36 564.64 62.72 C567.65 61.07 572.51 58.60 575.55 56.91 C578.59 55.21 580.44 54.11 582.88 52.53 C585.32 50.95 588.11 49.02 590.21 47.43 C592.31 45.84 593.82 43.94 595.48 42.98 C597.14 42.01 598.48 42.25 600.18 41.62 C601.87 41.00 603.87 40.47 605.63 39.23 C607.38 38.00 608.82 35.37 610.70 34.22 C612.58 33.07 614.40 32.84 616.91 32.31 C619.41 31.78 623.21 31.57 625.74 31.04 C628.28 30.50 630.54 30.93 632.14 29.12 C633.73 27.32 634.58 22.70 635.33 20.21 C636.08 17.72 636.43 15.17 636.65 14.16" fill="none" stroke="#ff1a1a" stroke-width="1.3" stroke-linejoin="round"/>
<path d="M519.90 17.11 C520.03 18.07 520.28 20.94 520.65 22.92 C521.03 24.89 521.34 27.24 522.16 28.97 C522.97 30.69 523.53 32.28 525.54 33.26 C527.55 34.25 530.99 34.38 534.19 34.86 C537.38 35.33 542.49 35.52 544.72 36.13 C546.94 36.74 546.66 37.60 547.54 38.52 C548.41 39.43 548.98 40.64 549.98 41.62 C550.98 42.60 552.46 43.78 553.55 44.41 C554.65 45.03 555.34 44.98 556.56 45.36 C557.78 45.75 559.54 46.01 560.88 46.72 C562.23 47.42 563.27 48.43 564.64 49.58 C566.02 50.74 567.90 52.65 569.16 53.64 C570.41 54.64 570.47 54.53 572.16 55.55 C573.86 56.57 577.52 58.71 579.31 59.77 C581.09 60.83 581.06 61.07 582.88 61.92 C584.70 62.77 588.21 63.87 590.21 64.87 C592.22 65.86 593.25 66.99 594.91 67.89 C596.57 68.79 598.58 69.48 600.18 70.28 C601.77 71.07 602.93 71.84 604.50 72.67 C606.07 73.49 607.76 74.54 609.58 75.21 C611.39 75.89 613.81 76.00 615.40 76.73 C617.00 77.46 617.94 78.45 619.16 79.59 C620.39 80.73 621.42 82.66 622.74 83.57 C624.05 84.49 625.71 84.59 627.06 85.08 C628.41 85.57 629.79 85.96 630.82 86.52 C631.85 87.07 632.61 87.39 633.26 88.43 C633.92 89.46 634.39 90.78 634.77 92.73 C635.14 94.68 635.27 95.23 635.52 100.13 C635.77 105.02 636.07 115.27 636.27 122.10 C636.48 128.93 636.66 137.95 636.74 141.12" fill="none" stroke="#ff1a1a" stroke-width="1.3" stroke-linejoin="round"/>
<line x1="622.70" y1="69.00" x2="614.62" y2="75.40" stroke="#000" stroke-width="1.3" />
<path d="M610.70 78.50 L613.60 72.50 L617.20 77.05 Z" fill="#000"/>
<line x1="607.30" y1="102.80" x2="617.60" y2="97.27" stroke="#000" stroke-width="1.3" />
<path d="M622.00 94.90 L618.09 100.29 L615.34 95.19 Z" fill="#000"/>
<rect x="516.4" y="5.9" width="153.80" height="139.30" fill="none" stroke="#000" stroke-width="1.15"/>
<line x1="512.10" y1="125.60" x2="516.40" y2="125.60" stroke="#000" stroke-width="1.15" />
<text x="509.10" y="129.45" font-size="10.7" text-anchor="end" >3.0</text>
<line x1="512.10" y1="85.80" x2="516.40" y2="85.80" stroke="#000" stroke-width="1.15" />
<text x="509.10" y="89.65" font-size="10.7" text-anchor="end" >3.5</text>
<line x1="512.10" y1="46.00" x2="516.40" y2="46.00" stroke="#000" stroke-width="1.15" />
<text x="509.10" y="49.85" font-size="10.7" text-anchor="end" >4.0</text>
<line x1="512.10" y1="6.20" x2="516.40" y2="6.20" stroke="#000" stroke-width="1.15" />
<text x="509.10" y="10.05" font-size="10.7" text-anchor="end" >4.5</text>
<line x1="514.00" y1="105.70" x2="516.40" y2="105.70" stroke="#000" stroke-width="1.15" />
<line x1="514.00" y1="65.90" x2="516.40" y2="65.90" stroke="#000" stroke-width="1.15" />
<line x1="514.00" y1="26.10" x2="516.40" y2="26.10" stroke="#000" stroke-width="1.15" />
<line x1="519.90" y1="145.20" x2="519.90" y2="149.50" stroke="#000" stroke-width="1.15" />
<text x="519.90" y="160.50" font-size="10.7" text-anchor="middle" >0</text>
<line x1="557.50" y1="145.20" x2="557.50" y2="149.50" stroke="#000" stroke-width="1.15" />
<text x="557.50" y="160.50" font-size="10.7" text-anchor="middle" >2</text>
<line x1="595.10" y1="145.20" x2="595.10" y2="149.50" stroke="#000" stroke-width="1.15" />
<text x="595.10" y="160.50" font-size="10.7" text-anchor="middle" >4</text>
<line x1="632.70" y1="145.20" x2="632.70" y2="149.50" stroke="#000" stroke-width="1.15" />
<text x="632.70" y="160.50" font-size="10.7" text-anchor="middle" >6</text>
<line x1="670.30" y1="145.20" x2="670.30" y2="149.50" stroke="#000" stroke-width="1.15" />
<text x="670.30" y="160.50" font-size="10.7" text-anchor="middle" >8</text>
<line x1="538.70" y1="145.20" x2="538.70" y2="147.60" stroke="#000" stroke-width="1.15" />
<line x1="576.30" y1="145.20" x2="576.30" y2="147.60" stroke="#000" stroke-width="1.15" />
<line x1="613.90" y1="145.20" x2="613.90" y2="147.60" stroke="#000" stroke-width="1.15" />
<line x1="651.50" y1="145.20" x2="651.50" y2="147.60" stroke="#000" stroke-width="1.15" />
<text x="593.00" y="174.60" font-size="11.1" text-anchor="middle" >Capacity (Ah)</text>
<text transform="translate(477.80,70.80) rotate(-90)" x="0" y="3.89" font-size="10.8" text-anchor="middle">Voltage (V)</text>
<text x="571.90" y="30.34" font-size="10.4" fill="#b366ff" >60th</text>
<text x="641.00" y="41.04" font-size="10.4" >1st</text>
<text x="616.90" y="65.74" font-size="10.4" fill="#ec8a33" >20th</text>
<text x="583.80" y="111.24" font-size="10.4" fill="#1a2cff" >40th</text>
<text x="643.40" y="135.94" font-size="10.4" fill="#ff1a1a" >3rd</text>
<text x="527.30" y="137.44" font-size="10.4" fill="#bd6870" >TFPM</text>
<text x="-0.5" y="188.2" font-size="11.9" font-weight="bold">c</text>
<defs><linearGradient id="tlc" x1="0" y1="0" x2="1" y2="1"><stop offset="0" stop-color="#1eaca7"/><stop offset="0.6" stop-color="#18a29d"/><stop offset="1" stop-color="#128e8a"/></linearGradient><linearGradient id="svc" x1="0" y1="0" x2="0" y2="1"><stop offset="0" stop-color="#e2e8eb"/><stop offset="0.5" stop-color="#c6ced2"/><stop offset="1" stop-color="#dde4e7"/></linearGradient></defs>
<rect x="45.30" y="271.80" width="109.90" height="55.80" fill="url(#tlc)"/>
<rect x="50.30" y="286.30" width="10.5" height="6.6" fill="#d3d2c9" stroke="#a9a89f" stroke-width="0.6"/>
<rect x="50.30" y="306.00" width="10.5" height="6.6" fill="#d3d2c9" stroke="#a9a89f" stroke-width="0.6"/>
<rect x="59.30" y="276.30" width="92.00" height="46.30" rx="1.5" fill="url(#svc)" stroke="#a7b2b7" stroke-width="0.8"/>
<rect x="61.80" y="279.30" width="87.00" height="40.30" fill="none" stroke="#bcc6ca" stroke-width="1.2"/>
<rect x="68.80" y="281.30" width="81.00" height="20.50" fill="#edf2f5"/>
<rect x="60.80" y="277.80" width="8" height="43.30" fill="#eef1f2" opacity="0.85"/>
<path d="M62.80 279.80 L63.70 284.30 L61.90 288.80 L63.70 293.30 L61.90 297.80 L63.70 302.30 L61.90 306.80 L63.70 311.30 L61.90 315.80 L63.70 320.30" stroke="#b3bdc1" stroke-width="0.55" fill="none"/>
<path d="M65.00 279.80 L65.90 284.30 L64.10 288.80 L65.90 293.30 L64.10 297.80 L65.90 302.30 L64.10 306.80 L65.90 311.30 L64.10 315.80 L65.90 320.30" stroke="#b3bdc1" stroke-width="0.55" fill="none"/>
<path d="M67.20 279.80 L68.10 284.30 L66.30 288.80 L68.10 293.30 L66.30 297.80 L68.10 302.30 L66.30 306.80 L68.10 311.30 L66.30 315.80 L68.10 320.30" stroke="#b3bdc1" stroke-width="0.55" fill="none"/>
<rect x="70.80" y="301.30" width="78.80" height="14.30" fill="#c28086"/>
<text x="110.00" y="310.50" font-size="6.4" text-anchor="middle" fill="#f6ecee">Li metal pouch cell</text>
<path d="M80.60 284.30 h15 v8 q0 6 -7.5 7.5 q-7.5 -1.5 -7.5 -7.5z" fill="#9fb6d6" stroke="#1f3c73" stroke-width="1.3"/>
<path d="M81.20 284.90 h13.8 v3 h-13.8z" fill="#26457e"/>
<path d="M83.10 296.80 l5 -6.5 l5 6.5" stroke="#ffffff" stroke-width="1.6" fill="none"/>
<path d="M79.10 297.30 q9 4 18 0" stroke="#3a5a90" stroke-width="1.2" fill="none"/>
<path transform="translate(97.60,286.00)" d="M1 1.2 L0 4.2 M1 2 V8 M3 0.5 V4 L5.5 3 M0 5.2 H7 M3.5 4.5 V8.5" stroke="#22386a" stroke-width="0.85" fill="none"/>
<path transform="translate(104.80,286.00)" d="M0.5 1.5 H6.5 M3.5 0 V1.5 M1 3 H6 V8.5 M1 3 V8.5 M2.2 4.5 L4.8 4.5 M3.5 4.5 V8 M2 6.2 H5" stroke="#22386a" stroke-width="0.85" fill="none"/>
<path transform="translate(112.00,286.00)" d="M1 0.5 V6 M0 1.5 V7.5 M2.5 0.5 H7 M2.8 2.5 H6.8 V6 M2.8 2.5 V6 M4.8 0.5 V8.5" stroke="#22386a" stroke-width="0.85" fill="none"/>
<path transform="translate(119.20,286.00)" d="M0.5 1.5 H7 M2.5 0 V2.5 M5 0 V2.5 M0.5 4 L1.8 5 M0.2 7.5 L2 6 M3 4 H6.5 V7 M3 4 V8.5" stroke="#22386a" stroke-width="0.85" fill="none"/>
<path transform="translate(126.40,286.00)" d="M0.5 3 H7 M3.8 0 V3 L0.5 8.5 M3.8 3 L7 8.5" stroke="#22386a" stroke-width="0.85" fill="none"/>
<path transform="translate(133.60,286.00)" d="M1 0.5 L2 2 M6 0.5 L5 2 M0.5 3 H7 V4 M0.5 3 V4 M2 5 H5.5 L3.5 6.5 M0.5 7 H7 M3.8 6.5 V8.8" stroke="#22386a" stroke-width="0.85" fill="none"/>
<line x1="97.60" y1="297.60" x2="139.60" y2="297.60" stroke="#8a97ad" stroke-width="0.9" stroke-dasharray="2,0.6"/>
<circle cx="50.64" cy="236.40" r="2.20" fill="#b5666c" />
<circle cx="60.08" cy="235.70" r="2.20" fill="#b5666c" />
<circle cx="69.52" cy="233.60" r="2.20" fill="#b5666c" />
<circle cx="78.96" cy="263.80" r="2.20" fill="#b5666c" />
<circle cx="88.40" cy="263.80" r="2.20" fill="#b5666c" />
<circle cx="97.84" cy="263.80" r="2.20" fill="#b5666c" />
<circle cx="107.28" cy="263.80" r="2.20" fill="#b5666c" />
<circle cx="116.72" cy="263.80" r="2.20" fill="#b5666c" />
<circle cx="126.16" cy="263.80" r="2.20" fill="#b5666c" />
<circle cx="135.60" cy="263.80" r="2.20" fill="#b5666c" />
<circle cx="145.04" cy="263.80" r="2.20" fill="#b5666c" />
<circle cx="154.48" cy="263.80" r="2.20" fill="#b5666c" />
<circle cx="163.92" cy="263.80" r="2.20" fill="#b5666c" />
<circle cx="173.36" cy="263.80" r="2.20" fill="#b5666c" />
<circle cx="182.80" cy="263.80" r="2.20" fill="#b5666c" />
<circle cx="192.24" cy="263.80" r="2.20" fill="#b5666c" />
<circle cx="201.68" cy="263.80" r="2.20" fill="#b5666c" />
<circle cx="211.12" cy="263.80" r="2.20" fill="#b5666c" />
<circle cx="220.56" cy="263.80" r="2.20" fill="#b5666c" />
<circle cx="230.00" cy="263.80" r="2.20" fill="#b5666c" />
<circle cx="239.44" cy="263.80" r="2.20" fill="#b5666c" />
<circle cx="248.88" cy="263.80" r="2.20" fill="#b5666c" />
<circle cx="258.32" cy="263.80" r="2.20" fill="#b5666c" />
<circle cx="267.76" cy="262.90" r="2.20" fill="#b5666c" />
<circle cx="277.20" cy="263.80" r="2.20" fill="#b5666c" />
<circle cx="286.64" cy="263.80" r="2.20" fill="#b5666c" />
<circle cx="296.08" cy="263.80" r="2.20" fill="#b5666c" />
<circle cx="305.52" cy="263.80" r="2.20" fill="#b5666c" />
<circle cx="314.96" cy="267.20" r="2.20" fill="#b5666c" />
<circle cx="324.40" cy="267.42" r="2.20" fill="#b5666c" />
<circle cx="333.84" cy="267.64" r="2.20" fill="#b5666c" />
<circle cx="343.28" cy="267.86" r="2.20" fill="#b5666c" />
<circle cx="352.72" cy="268.08" r="2.20" fill="#b5666c" />
<circle cx="362.16" cy="268.30" r="2.20" fill="#b5666c" />
<circle cx="371.60" cy="268.52" r="2.20" fill="#b5666c" />
<circle cx="381.04" cy="268.74" r="2.20" fill="#b5666c" />
<circle cx="390.48" cy="268.96" r="2.20" fill="#b5666c" />
<circle cx="399.92" cy="269.18" r="2.20" fill="#b5666c" />
<circle cx="409.36" cy="269.40" r="2.20" fill="#b5666c" />
<circle cx="418.80" cy="269.62" r="2.20" fill="#b5666c" />
<path d="M50.64 206.20 L60.08 196.00 L69.52 193.80 L78.96 231.70 L88.40 196.40 L97.84 196.40 L107.28 196.40 L116.72 196.40 L126.16 196.40 L135.60 196.40 L145.04 196.40 L154.48 196.40 L163.92 196.40 L173.36 196.40 L182.80 196.40 L192.24 196.40 L201.68 196.40 L211.12 196.40 L220.56 196.40 L230.00 196.40 L239.44 196.40 L248.88 196.40 L258.32 196.40 L267.76 196.40 L277.20 196.40 L286.64 196.40 L296.08 194.00 L305.52 196.40 L314.96 197.80 L324.40 196.40 L333.84 196.40 L343.28 196.40 L352.72 196.40 L362.16 196.40 L371.60 196.40 L381.04 196.40 L390.48 196.40 L399.92 196.40 L409.36 196.40 L418.80 196.40" fill="none" stroke="#c47a80" stroke-width="0.6"/>
<circle cx="50.64" cy="206.20" r="1.95" fill="#fff" stroke="#c47a80" stroke-width="0.85" />
<circle cx="60.08" cy="196.00" r="1.95" fill="#fff" stroke="#c47a80" stroke-width="0.85" />
<circle cx="69.52" cy="193.80" r="1.95" fill="#fff" stroke="#c47a80" stroke-width="0.85" />
<circle cx="78.96" cy="231.70" r="1.95" fill="#fff" stroke="#c47a80" stroke-width="0.85" />
<circle cx="88.40" cy="196.40" r="1.95" fill="#fff" stroke="#c47a80" stroke-width="0.85" />
<circle cx="97.84" cy="196.40" r="1.95" fill="#fff" stroke="#c47a80" stroke-width="0.85" />
<circle cx="107.28" cy="196.40" r="1.95" fill="#fff" stroke="#c47a80" stroke-width="0.85" />
<circle cx="116.72" cy="196.40" r="1.95" fill="#fff" stroke="#c47a80" stroke-width="0.85" />
<circle cx="126.16" cy="196.40" r="1.95" fill="#fff" stroke="#c47a80" stroke-width="0.85" />
<circle cx="135.60" cy="196.40" r="1.95" fill="#fff" stroke="#c47a80" stroke-width="0.85" />
<circle cx="145.04" cy="196.40" r="1.95" fill="#fff" stroke="#c47a80" stroke-width="0.85" />
<circle cx="154.48" cy="196.40" r="1.95" fill="#fff" stroke="#c47a80" stroke-width="0.85" />
<circle cx="163.92" cy="196.40" r="1.95" fill="#fff" stroke="#c47a80" stroke-width="0.85" />
<circle cx="173.36" cy="196.40" r="1.95" fill="#fff" stroke="#c47a80" stroke-width="0.85" />
<circle cx="182.80" cy="196.40" r="1.95" fill="#fff" stroke="#c47a80" stroke-width="0.85" />
<circle cx="192.24" cy="196.40" r="1.95" fill="#fff" stroke="#c47a80" stroke-width="0.85" />
<circle cx="201.68" cy="196.40" r="1.95" fill="#fff" stroke="#c47a80" stroke-width="0.85" />
<circle cx="211.12" cy="196.40" r="1.95" fill="#fff" stroke="#c47a80" stroke-width="0.85" />
<circle cx="220.56" cy="196.40" r="1.95" fill="#fff" stroke="#c47a80" stroke-width="0.85" />
<circle cx="230.00" cy="196.40" r="1.95" fill="#fff" stroke="#c47a80" stroke-width="0.85" />
<circle cx="239.44" cy="196.40" r="1.95" fill="#fff" stroke="#c47a80" stroke-width="0.85" />
<circle cx="248.88" cy="196.40" r="1.95" fill="#fff" stroke="#c47a80" stroke-width="0.85" />
<circle cx="258.32" cy="196.40" r="1.95" fill="#fff" stroke="#c47a80" stroke-width="0.85" />
<circle cx="267.76" cy="196.40" r="1.95" fill="#fff" stroke="#c47a80" stroke-width="0.85" />
<circle cx="277.20" cy="196.40" r="1.95" fill="#fff" stroke="#c47a80" stroke-width="0.85" />
<circle cx="286.64" cy="196.40" r="1.95" fill="#fff" stroke="#c47a80" stroke-width="0.85" />
<circle cx="296.08" cy="194.00" r="1.95" fill="#fff" stroke="#c47a80" stroke-width="0.85" />
<circle cx="305.52" cy="196.40" r="1.95" fill="#fff" stroke="#c47a80" stroke-width="0.85" />
<circle cx="314.96" cy="197.80" r="1.95" fill="#fff" stroke="#c47a80" stroke-width="0.85" />
<circle cx="324.40" cy="196.40" r="1.95" fill="#fff" stroke="#c47a80" stroke-width="0.85" />
<circle cx="333.84" cy="196.40" r="1.95" fill="#fff" stroke="#c47a80" stroke-width="0.85" />
<circle cx="343.28" cy="196.40" r="1.95" fill="#fff" stroke="#c47a80" stroke-width="0.85" />
<circle cx="352.72" cy="196.40" r="1.95" fill="#fff" stroke="#c47a80" stroke-width="0.85" />
<circle cx="362.16" cy="196.40" r="1.95" fill="#fff" stroke="#c47a80" stroke-width="0.85" />
<circle cx="371.60" cy="196.40" r="1.95" fill="#fff" stroke="#c47a80" stroke-width="0.85" />
<circle cx="381.04" cy="196.40" r="1.95" fill="#fff" stroke="#c47a80" stroke-width="0.85" />
<circle cx="390.48" cy="196.40" r="1.95" fill="#fff" stroke="#c47a80" stroke-width="0.85" />
<circle cx="399.92" cy="196.40" r="1.95" fill="#fff" stroke="#c47a80" stroke-width="0.85" />
<circle cx="409.36" cy="196.40" r="1.95" fill="#fff" stroke="#c47a80" stroke-width="0.85" />
<circle cx="418.80" cy="196.40" r="1.95" fill="#fff" stroke="#c47a80" stroke-width="0.85" />
<rect x="41.3" y="191.6" width="378.10" height="139.30" fill="none" stroke="#000" stroke-width="1.15"/>
<line x1="37.00" y1="330.90" x2="41.30" y2="330.90" stroke="#000" stroke-width="1.15" />
<text x="34.00" y="334.75" font-size="10.7" text-anchor="end" >0</text>
<line x1="37.00" y1="284.47" x2="41.30" y2="284.47" stroke="#000" stroke-width="1.15" />
<text x="34.00" y="288.32" font-size="10.7" text-anchor="end" >3</text>
<line x1="37.00" y1="238.03" x2="41.30" y2="238.03" stroke="#000" stroke-width="1.15" />
<text x="34.00" y="241.89" font-size="10.7" text-anchor="end" >6</text>
<line x1="37.00" y1="191.60" x2="41.30" y2="191.60" stroke="#000" stroke-width="1.15" />
<text x="34.00" y="195.45" font-size="10.7" text-anchor="end" >9</text>
<line x1="38.90" y1="307.68" x2="41.30" y2="307.68" stroke="#000" stroke-width="1.15" />
<line x1="38.90" y1="261.25" x2="41.30" y2="261.25" stroke="#000" stroke-width="1.15" />
<line x1="38.90" y1="214.82" x2="41.30" y2="214.82" stroke="#000" stroke-width="1.15" />
<line x1="419.40" y1="330.90" x2="423.70" y2="330.90" stroke="#000" stroke-width="1.15" />
<text x="426.20" y="334.75" font-size="10.7" >0</text>
<line x1="419.40" y1="303.90" x2="423.70" y2="303.90" stroke="#000" stroke-width="1.15" />
<text x="426.20" y="307.75" font-size="10.7" >20</text>
<line x1="419.40" y1="276.90" x2="423.70" y2="276.90" stroke="#000" stroke-width="1.15" />
<text x="426.20" y="280.75" font-size="10.7" >40</text>
<line x1="419.40" y1="249.90" x2="423.70" y2="249.90" stroke="#000" stroke-width="1.15" />
<text x="426.20" y="253.75" font-size="10.7" >60</text>
<line x1="419.40" y1="222.90" x2="423.70" y2="222.90" stroke="#000" stroke-width="1.15" />
<text x="426.20" y="226.75" font-size="10.7" >80</text>
<line x1="419.40" y1="195.90" x2="423.70" y2="195.90" stroke="#000" stroke-width="1.15" />
<text x="426.20" y="199.75" font-size="10.7" >100</text>
<line x1="419.40" y1="317.40" x2="421.80" y2="317.40" stroke="#000" stroke-width="1.15" />
<line x1="419.40" y1="290.40" x2="421.80" y2="290.40" stroke="#000" stroke-width="1.15" />
<line x1="419.40" y1="263.40" x2="421.80" y2="263.40" stroke="#000" stroke-width="1.15" />
<line x1="419.40" y1="236.40" x2="421.80" y2="236.40" stroke="#000" stroke-width="1.15" />
<line x1="419.40" y1="209.40" x2="421.80" y2="209.40" stroke="#000" stroke-width="1.15" />
<line x1="41.20" y1="330.90" x2="41.20" y2="335.20" stroke="#000" stroke-width="1.15" />
<text x="41.20" y="346.20" font-size="10.7" text-anchor="middle" >0</text>
<line x1="135.60" y1="330.90" x2="135.60" y2="335.20" stroke="#000" stroke-width="1.15" />
<text x="135.60" y="346.20" font-size="10.7" text-anchor="middle" >10</text>
<line x1="230.00" y1="330.90" x2="230.00" y2="335.20" stroke="#000" stroke-width="1.15" />
<text x="230.00" y="346.20" font-size="10.7" text-anchor="middle" >20</text>
<line x1="324.40" y1="330.90" x2="324.40" y2="335.20" stroke="#000" stroke-width="1.15" />
<text x="324.40" y="346.20" font-size="10.7" text-anchor="middle" >30</text>
<line x1="418.80" y1="330.90" x2="418.80" y2="335.20" stroke="#000" stroke-width="1.15" />
<text x="418.80" y="346.20" font-size="10.7" text-anchor="middle" >40</text>
<line x1="88.40" y1="330.90" x2="88.40" y2="333.30" stroke="#000" stroke-width="1.15" />
<line x1="182.80" y1="330.90" x2="182.80" y2="333.30" stroke="#000" stroke-width="1.15" />
<line x1="277.20" y1="330.90" x2="277.20" y2="333.30" stroke="#000" stroke-width="1.15" />
<line x1="371.60" y1="330.90" x2="371.60" y2="333.30" stroke="#000" stroke-width="1.15" />
<text x="230.20" y="359.60" font-size="11.1" text-anchor="middle" >Cycle number</text>
<text transform="translate(16.80,261.20) rotate(-90)" x="0" y="3.89" font-size="10.8" text-anchor="middle">Capacity (Ah)</text>
<text transform="translate(450.80,261.20) rotate(-90)" x="0" y="3.89" font-size="10.8" text-anchor="middle">Coulombic efficiency (%)</text>
<text x="89.30" y="224.28" font-size="10.5" >Specific energy: 491.1 Wh kg<tspan font-size="7.2" dy="-3.9">−1</tspan></text>
<text x="50.80" y="253.38" font-size="10.5" >500 mA formation (25 °C)</text>
<text x="186.80" y="253.38" font-size="10.5" >310 mA (~0.05 C) charge/discharge (−40 °C)</text>
<text x="176.20" y="282.78" font-size="10.5" fill="#bd6870" >TFPM</text>
<text x="380.60" y="287.18" font-size="10.5" fill="#bd6870" >90.8%</text>
<text x="231.70" y="285.68" font-size="10.5" >Type: Li||NMC9055</text>
<text x="231.70" y="297.88" font-size="10.5" >Capacity: 6.29/4.40 Ah</text>
<text x="231.70" y="310.08" font-size="10.5" >E/C: 1.87 g Ah<tspan font-size="7.2" dy="-3.9">−1</tspan></text>
<text x="231.70" y="322.28" font-size="10.5" >Specific energy: 345.3 Wh kg<tspan font-size="7.2" dy="-3.9">−1</tspan></text>
<text x="471.5" y="187.5" font-size="11.9" font-weight="bold">d</text>
<path d="M518.9 219.3 H640" stroke="#8a8a8a" stroke-width="0.75" stroke-dasharray="0.9,2.0" fill="none"/>
<path d="M641 224 V327" stroke="#8a8a8a" stroke-width="0.75" stroke-dasharray="0.9,2.0" fill="none"/>
<line x1="516.90" y1="305.30" x2="641.30" y2="305.30" stroke="#a5bde6" stroke-width="1.2" />
<line x1="516.90" y1="331.60" x2="516.90" y2="192.50" stroke="#000" stroke-width="1.15" />
<path d="M514.60 193.6 L516.90 188.5 L519.20 193.6 Z" fill="#000"/>
<line x1="516.90" y1="331.60" x2="671.50" y2="331.60" stroke="#000" stroke-width="1.15" />
<path d="M670.4 329.30 L675.2 331.60 L670.4 333.90 Z" fill="#000"/>
<rect x="515.40" y="302.2" width="3" height="3.2" fill="#fff"/>
<line x1="512.40" y1="305.30" x2="521.00" y2="300.40" stroke="#000" stroke-width="1.0" />
<line x1="512.40" y1="307.50" x2="521.00" y2="302.60" stroke="#000" stroke-width="1.0" />
<line x1="512.60" y1="259.00" x2="516.90" y2="259.00" stroke="#000" stroke-width="1.15" />
<text x="509.60" y="262.85" font-size="10.7" text-anchor="end" >300</text>
<line x1="512.60" y1="215.40" x2="516.90" y2="215.40" stroke="#000" stroke-width="1.15" />
<text x="509.60" y="219.25" font-size="10.7" text-anchor="end" >350</text>
<line x1="512.60" y1="327.30" x2="516.90" y2="327.30" stroke="#000" stroke-width="1.15" />
<text x="509.60" y="331.15" font-size="10.7" text-anchor="end" >0</text>
<line x1="516.90" y1="331.60" x2="516.90" y2="335.90" stroke="#000" stroke-width="1.15" />
<text x="516.90" y="347.50" font-size="10.7" text-anchor="middle" >-10</text>
<line x1="558.30" y1="331.60" x2="558.30" y2="335.90" stroke="#000" stroke-width="1.15" />
<text x="558.30" y="347.50" font-size="10.7" text-anchor="middle" >-20</text>
<line x1="599.70" y1="331.60" x2="599.70" y2="335.90" stroke="#000" stroke-width="1.15" />
<text x="599.70" y="347.50" font-size="10.7" text-anchor="middle" >-30</text>
<line x1="641.10" y1="331.60" x2="641.10" y2="335.90" stroke="#000" stroke-width="1.15" />
<text x="641.10" y="347.50" font-size="10.7" text-anchor="middle" >-40</text>
<text x="595.90" y="360.10" font-size="11.4" text-anchor="middle" >Temperature (°C)</text>
<text transform="translate(481.8,260.2) rotate(-90)" x="0" y="0" font-size="11.1" text-anchor="middle">Specific energy (Wh kg<tspan font-size="7.6" dy="-4">−1</tspan><tspan dy="4">)</tspan></text>
<circle cx="558.30" cy="215.00" r="7.20" fill="#55a3bd" />
<circle cx="558.30" cy="223.80" r="3.50" fill="#e0832a" />
<circle cx="640.80" cy="219.60" r="4.20" fill="#ff1a1a" />
<circle cx="640.80" cy="235.30" r="1.70" fill="#6aaa4a" />
<defs><clipPath id="dclip"><rect x="517" y="180" width="170" height="151.2"/></clipPath></defs>
<g clip-path="url(#dclip)">
<circle cx="558.10" cy="327.10" r="4.10" fill="#b88e8b" />
<circle cx="558.10" cy="327.10" r="2.20" fill="#1a1aff" />
<circle cx="641.10" cy="327.10" r="8.40" fill="#f22cf0" />
<circle cx="641.10" cy="327.10" r="1.50" fill="#8ee07a" />
</g>
<line x1="516.90" y1="331.60" x2="671.50" y2="331.60" stroke="#000" stroke-width="1.15" />
<text x="534.20" y="212.98" font-size="9.1" fill="#66b3d0" >[25]</text>
<text x="561.90" y="235.48" font-size="9.1" fill="#e0832a" >[47]</text>
<text x="619.10" y="212.31" font-size="10.3" fill="#ff1a1a" >This work</text>
<text x="619.60" y="244.01" font-size="9.2" fill="#6aaa4a" >[50]<tspan font-size="7" dy="-2.2">*</tspan></text>
<text x="594.40" y="290.21" font-size="9.2" text-anchor="middle" >No mention of</text>
<text x="594.30" y="300.51" font-size="9.2" text-anchor="middle" >specific energy</text>
<line x1="554.90" y1="279.60" x2="554.90" y2="296.00" stroke="#000" stroke-width="1.2" />
<path d="M552.4 295 L554.9 301.3 L557.4 295 Z" fill="#000"/>
<text x="535.70" y="322.68" font-size="9.1" fill="#1a1aff" >[40]</text>
<text x="564.60" y="321.48" font-size="9.1" fill="#d4a0a0" >[48]</text>
<text x="616.30" y="323.18" font-size="9.1" fill="#70e070" >[49]</text>
<text x="648.90" y="319.08" font-size="9.1" fill="#e020e0" >[51]</text>
<circle cx="661.70" cy="275.30" r="10.40" fill="none" stroke="#000" stroke-width="0.6" />
<circle cx="661.70" cy="279.50" r="6.20" fill="none" stroke="#000" stroke-width="0.6" />
<circle cx="661.70" cy="283.70" r="2.00" fill="none" stroke="#000" stroke-width="0.6" />
<text x="661.90" y="264.49" font-size="5.8" text-anchor="middle" >100</text>
<text x="661.70" y="272.99" font-size="5.8" text-anchor="middle" >60</text>
<text x="661.70" y="280.99" font-size="5.8" text-anchor="middle" >20</text>
<text x="661.30" y="296.20" font-size="8.6" text-anchor="middle" >Cycles</text>
<text x="-0.5" y="384.6" font-size="11.9" font-weight="bold">e</text>
<text x="9.10" y="394.15" font-size="11.8" fill="#cc1a24" >Strong solvation solvent</text>
<text x="9.10" y="406.92" font-size="10.6" >×<tspan dx="1.4"> Slow de-solvation</tspan></text>
<text x="9.10" y="420.22" font-size="10.6" >×<tspan dx="1.4"> Solvent-derived SEI</tspan></text>
<text x="11.60" y="606.25" font-size="11.8" fill="#f41818" >Weak solvation solvent</text>
<text x="22.60" y="619.02" font-size="10.6" >Promoted de-solvation</text>
<text x="22.40" y="630.62" font-size="10.6" >Anion-derived SEI</text>
<path d="M11.5 614.5 L12.7 613.5 L13.9 615.0 L18.9 609.9 L19.5 610.5 L14.0 617.1 Z" fill="#000"/>
<path d="M11.5 626.8 L12.7 625.8 L13.9 627.3 L18.9 622.2 L19.5 622.8 L14.0 629.4 Z" fill="#000"/>
<text x="1.00" y="498.40" font-size="11.8" fill="#f81212" font-weight="bold" >Weakening</text>
<text x="12.90" y="512.60" font-size="11.8" fill="#f81212" font-weight="bold" >RESP<tspan font-size="8.5" dy="3">O</tspan></text>
<defs><linearGradient id="gg" x1="0" y1="0" x2="0" y2="1"><stop offset="0" stop-color="#f8f8f8"/><stop offset="0.07" stop-color="#d6d6d6"/><stop offset="0.5" stop-color="#bdbdbd"/><stop offset="0.88" stop-color="#9a9a9a"/><stop offset="1" stop-color="#6c6a6a"/></linearGradient><linearGradient id="gh" x1="0" y1="0" x2="1" y2="0"><stop offset="0" stop-color="#000" stop-opacity="0.06"/><stop offset="0.5" stop-color="#fff" stop-opacity="0.08"/><stop offset="1" stop-color="#000" stop-opacity="0.06"/></linearGradient><linearGradient id="gLow" gradientUnits="userSpaceOnUse" x1="142.8" y1="613.2" x2="184.8" y2="497.5"><stop offset="0" stop-color="#e6a81c"/><stop offset="0.5" stop-color="#e4e2dc"/><stop offset="1" stop-color="#3f5f92"/></linearGradient><linearGradient id="gHigh" gradientUnits="userSpaceOnUse" x1="142.8" y1="613.2" x2="274.2" y2="613.2"><stop offset="0" stop-color="#e6a81c"/><stop offset="0.5" stop-color="#e4e2dc"/><stop offset="1" stop-color="#3f5f92"/></linearGradient><linearGradient id="gMod" gradientUnits="userSpaceOnUse" x1="142.8" y1="613.2" x2="308.8" y2="500"><stop offset="0" stop-color="#e6a81c"/><stop offset="0.35" stop-color="#f7b5b5"/><stop offset="1" stop-color="#ff1a1a"/></linearGradient></defs>
<path d="M64.2 428 H79.5 V577.1 H85.7 L71.85 590.8 L58 577.1 H64.2 Z" fill="url(#gg)"/>
<rect x="64.2" y="428" width="15.3" height="149.1" fill="url(#gh)"/>
<line x1="142.8" y1="613.2" x2="182.14" y2="504.83" stroke="url(#gLow)" stroke-width="2.8"/>
<path d="M184.80 497.50 L185.76 510.08 L181.97 505.30 L175.99 506.54 Z" fill="url(#gLow)"/>
<line x1="142.8" y1="613.2" x2="266.70" y2="613.20" stroke="url(#gHigh)" stroke-width="2.8"/>
<path d="M274.50 613.20 L263.00 618.40 L266.20 613.20 L263.00 608.00 Z" fill="url(#gHigh)"/>
<line x1="142.8" y1="613.2" x2="301.57" y2="504.21" stroke="url(#gMod)" stroke-width="2.8"/>
<path d="M308.00 499.80 L301.46 510.60 L301.16 504.50 L295.58 502.02 Z" fill="url(#gMod)"/>
<text transform="translate(152.6,558.5) rotate(-71)" x="0" y="3.6" font-size="10" text-anchor="middle">Low μ</text>
<text transform="translate(222.3,544.8) rotate(-33.5)" x="0" y="4.3" font-size="12" font-weight="bold" fill="#b9656b" text-anchor="middle">Moderate μ</text>
<text x="197.50" y="605.90" font-size="10" >High μ</text>
<text x="283.60" y="612.28" font-size="10.5" >Aggressive interphase dissolution</text>
<text x="283.60" y="623.18" font-size="10.5" >Insufficient anion decomposition</text>
<text x="104.00" y="489.18" font-size="10.5" >Poor sensitivity to the electric fields</text>
<path d="M119.30 455.00 L133.50 447.10 L147.30 455.00 L156.30 449.60" fill="none" stroke="#222" stroke-width="1.1" stroke-linejoin="round"/>
<path d="M164.60 449.60 L174.30 455.00" fill="none" stroke="#222" stroke-width="1.1" stroke-linejoin="round"/>
<text x="160.30" y="449.92" font-size="8.4" text-anchor="middle" fill="#ee2222" >O</text>
<line x1="160.40" y1="436.30" x2="160.40" y2="442.60" stroke="#222" stroke-width="1.0" stroke-dasharray="2.6,0.9"/>
<text x="158.00" y="434.42" font-size="8.4" fill="#a23de0" >Li<tspan font-size="5.5" dy="-3">+</tspan></text>
<text x="146.30" y="472.53" font-size="9.8" text-anchor="middle" fill="#a8d8cc" >PM</text>
<path d="M188.70 446.90 L202.30 455.00 L216.30 446.90 L229.60 455.00 L238.60 449.60" fill="none" stroke="#222" stroke-width="1.1" stroke-linejoin="round"/>
<path d="M246.90 449.60 L257.20 455.00" fill="none" stroke="#222" stroke-width="1.1" stroke-linejoin="round"/>
<text x="242.70" y="449.92" font-size="8.4" text-anchor="middle" fill="#ee2222" >O</text>
<line x1="242.80" y1="436.30" x2="242.80" y2="442.60" stroke="#222" stroke-width="1.0" stroke-dasharray="2.6,0.9"/>
<text x="240.40" y="434.42" font-size="8.4" fill="#a23de0" >Li<tspan font-size="5.5" dy="-3">+</tspan></text>
<text x="222.60" y="472.53" font-size="9.8" text-anchor="middle" fill="#f0b43c" >BM</text>
<rect x="306.9" y="378.2" width="105.4" height="71.5" rx="8.5" fill="none" stroke="#f02828" stroke-width="1.6"/>
<text x="359.90" y="443.86" font-size="9.9" text-anchor="middle" fill="#b4636b" font-weight="bold" >TFPM</text>
<path d="M376.40 403.80 L376.50 417.60 L360.40 426.40 L344.30 417.60 L344.30 403.20" fill="none" stroke="#222" stroke-width="1.1" stroke-linejoin="round"/>
<path d="M379.90 395.90 L392.50 389.80" fill="none" stroke="#222" stroke-width="1.1" stroke-linejoin="round"/>
<line x1="367.30" y1="394.30" x2="372.20" y2="396.90" stroke="#222" stroke-width="1.0" />
<text x="376.00" y="403.03" font-size="9.8" text-anchor="middle" fill="#ee2222" >O</text>
<text x="344.50" y="402.02" font-size="9.5" text-anchor="middle" fill="#7cc8d8" >F</text>
<text x="357.60" y="394.10" font-size="10" fill="#a23de0" >Li<tspan font-size="6.5" dy="-3.6">+</tspan></text>
<line x1="348.40" y1="396.10" x2="355.80" y2="393.90" stroke="#222" stroke-width="1.0" stroke-dasharray="1.8,1.0"/>
<line x1="342.55" y1="417.16" x2="343.10" y2="416.26" stroke="#222" stroke-width="0.8" />
<line x1="340.29" y1="416.18" x2="341.17" y2="414.72" stroke="#222" stroke-width="0.8" />
<line x1="338.04" y1="415.20" x2="339.25" y2="413.19" stroke="#222" stroke-width="0.8" />
<line x1="335.78" y1="414.22" x2="337.32" y2="411.66" stroke="#222" stroke-width="0.8" />
<line x1="333.52" y1="413.24" x2="335.40" y2="410.12" stroke="#222" stroke-width="0.8" />
<line x1="331.26" y1="412.26" x2="333.47" y2="408.59" stroke="#222" stroke-width="0.8" />
<text x="328.30" y="412.12" font-size="9.5" text-anchor="middle" fill="#7cc8d8" >F</text>
<path d="M344.3 417.6 L336.0 424.6 L339.4 428.2 Z" fill="#111"/>
<text x="331.40" y="433.82" font-size="9.5" text-anchor="middle" fill="#7cc8d8" >F</text>
<text x="286.70" y="465.86" font-size="10.45" fill="#b9656b" >Less interphase dissolution</text>
<text x="286.70" y="478.36" font-size="10.45" fill="#b9656b" >Thorough anion decomposition</text>
<text x="286.70" y="490.76" font-size="10.45" fill="#b9656b" >Fast de-solvation</text>
<path d="M376.90 548.40 L380.70 559.50 L370.20 572.30 L355.00 572.30 L345.10 560.00 L347.40 548.20" fill="none" stroke="#222" stroke-width="1.1" stroke-linejoin="round"/>
<path d="M380.10 541.40 L390.70 536.10" fill="none" stroke="#222" stroke-width="1.1" stroke-linejoin="round"/>
<line x1="369.00" y1="540.20" x2="373.10" y2="542.50" stroke="#222" stroke-width="1.0" />
<text x="376.40" y="548.13" font-size="9.8" text-anchor="middle" fill="#ee2222" >O</text>
<text x="348.30" y="547.72" font-size="9.5" text-anchor="middle" fill="#7cc8d8" >F</text>
<text x="359.70" y="540.80" font-size="10" fill="#a23de0" >Li<tspan font-size="6.5" dy="-3.6">+</tspan></text>
<line x1="352.10" y1="542.50" x2="359.10" y2="539.00" stroke="#222" stroke-width="1.0" stroke-dasharray="1.8,1.0"/>
<line x1="343.38" y1="559.70" x2="343.87" y2="558.76" stroke="#222" stroke-width="0.8" />
<line x1="341.14" y1="558.90" x2="341.93" y2="557.39" stroke="#222" stroke-width="0.8" />
<line x1="338.90" y1="558.10" x2="339.98" y2="556.01" stroke="#222" stroke-width="0.8" />
<line x1="336.66" y1="557.30" x2="338.04" y2="554.64" stroke="#222" stroke-width="0.8" />
<line x1="334.42" y1="556.49" x2="336.10" y2="553.27" stroke="#222" stroke-width="0.8" />
<line x1="332.18" y1="555.69" x2="334.16" y2="551.89" stroke="#222" stroke-width="0.8" />
<text x="330.80" y="555.32" font-size="9.5" text-anchor="middle" fill="#7cc8d8" >F</text>
<path d="M345.1 560.0 L337.6 567.0 L341.0 570.5 Z" fill="#111"/>
<text x="337.10" y="576.02" font-size="9.5" text-anchor="middle" fill="#7cc8d8" >F</text>
<text x="359.50" y="591.70" font-size="10" text-anchor="middle" fill="#4a86b8" >TFBM</text>
<text x="473.8" y="384.6" font-size="11.9" font-weight="bold">f</text>
<line x1="488.40" y1="388.00" x2="510.40" y2="388.00" stroke="#a8d8cc" stroke-width="1.2" />
<text x="517.00" y="391.97" font-size="10.2" fill="#a8d8cc" >PM</text>
<line x1="554.50" y1="388.00" x2="576.50" y2="388.00" stroke="#c0707a" stroke-width="1.2" />
<text x="583.10" y="391.97" font-size="10.2" fill="#c0707a" >TFPM</text>
<line x1="488.80" y1="410.40" x2="510.80" y2="410.40" stroke="#f0b43c" stroke-width="1.2" />
<text x="517.40" y="415.57" font-size="10.2" fill="#f0b43c" >BM</text>
<line x1="554.50" y1="410.40" x2="576.50" y2="410.40" stroke="#4a88b8" stroke-width="1.2" />
<text x="583.10" y="415.57" font-size="10.2" fill="#4a88b8" >TFBM</text>
<polygon points="564.30,463.60 638.01,517.15 609.85,603.80 518.75,603.80 490.59,517.15" fill="#fff" stroke="#999" stroke-width="0.7"/>
<polygon points="564.30,463.60 631.37,519.31 605.30,597.53 532.18,585.30 497.23,519.31" fill="#f8c0c3" stroke="#b85a64" stroke-width="1.2"/>
<polygon points="564.30,525.60 579.04,536.31 573.41,553.64 555.19,553.64 549.56,536.31" fill="none" stroke="#a08080" stroke-width="0.6" opacity="0.7"/>
<polygon points="564.30,510.10 593.78,531.52 582.52,566.18 546.08,566.18 534.82,531.52" fill="none" stroke="#a08080" stroke-width="0.6" opacity="0.7"/>
<polygon points="564.30,494.60 608.52,526.73 591.63,578.72 536.97,578.72 520.08,526.73" fill="none" stroke="#a08080" stroke-width="0.6" opacity="0.7"/>
<polygon points="564.30,479.10 623.27,521.94 600.74,591.26 527.86,591.26 505.33,521.94" fill="none" stroke="#a08080" stroke-width="0.6" opacity="0.7"/>
<polygon points="564.30,494.60 623.27,521.94 601.20,591.89 522.39,598.78 512.71,524.34" fill="none" stroke="#a8d8cc" stroke-width="1.3"/>
<polygon points="564.30,510.10 615.89,524.34 596.19,584.99 527.40,591.89 525.97,528.65" fill="none" stroke="#f0b43c" stroke-width="1.3"/>
<polygon points="564.30,470.96 615.89,524.34 601.20,591.89 536.74,579.03 512.71,524.34" fill="none" stroke="#4a88b8" stroke-width="1.3"/>
<text x="564.30" y="539.77" font-size="10.2" text-anchor="middle" fill="#777" >0</text>
<text x="564.30" y="524.27" font-size="10.2" text-anchor="middle" fill="#777" >2</text>
<text x="564.30" y="508.77" font-size="10.2" text-anchor="middle" fill="#777" >4</text>
<text x="564.30" y="493.27" font-size="10.2" text-anchor="middle" fill="#777" >6</text>
<text x="564.30" y="477.77" font-size="10.2" text-anchor="middle" fill="#777" >8</text>
<text x="564.30" y="462.27" font-size="10.2" text-anchor="middle" fill="#777" >10</text>
<text x="559.00" y="447.30" font-size="10.5" text-anchor="middle" >Anodic stability</text>
<text x="479.60" y="493.70" font-size="10.5" text-anchor="middle" >Interphase</text>
<text x="479.60" y="505.90" font-size="10.5" text-anchor="middle" >stability</text>
<text x="656.40" y="493.60" font-size="10.5" text-anchor="middle" >Li-metal</text>
<text x="656.40" y="505.80" font-size="10.5" text-anchor="middle" >compatibility</text>
<text x="514.60" y="622.38" font-size="10.5" text-anchor="middle" >Ionic conduction</text>
<text x="609.20" y="622.38" font-size="10.5" text-anchor="middle" >De-solvation</text>
</svg></body></html>
